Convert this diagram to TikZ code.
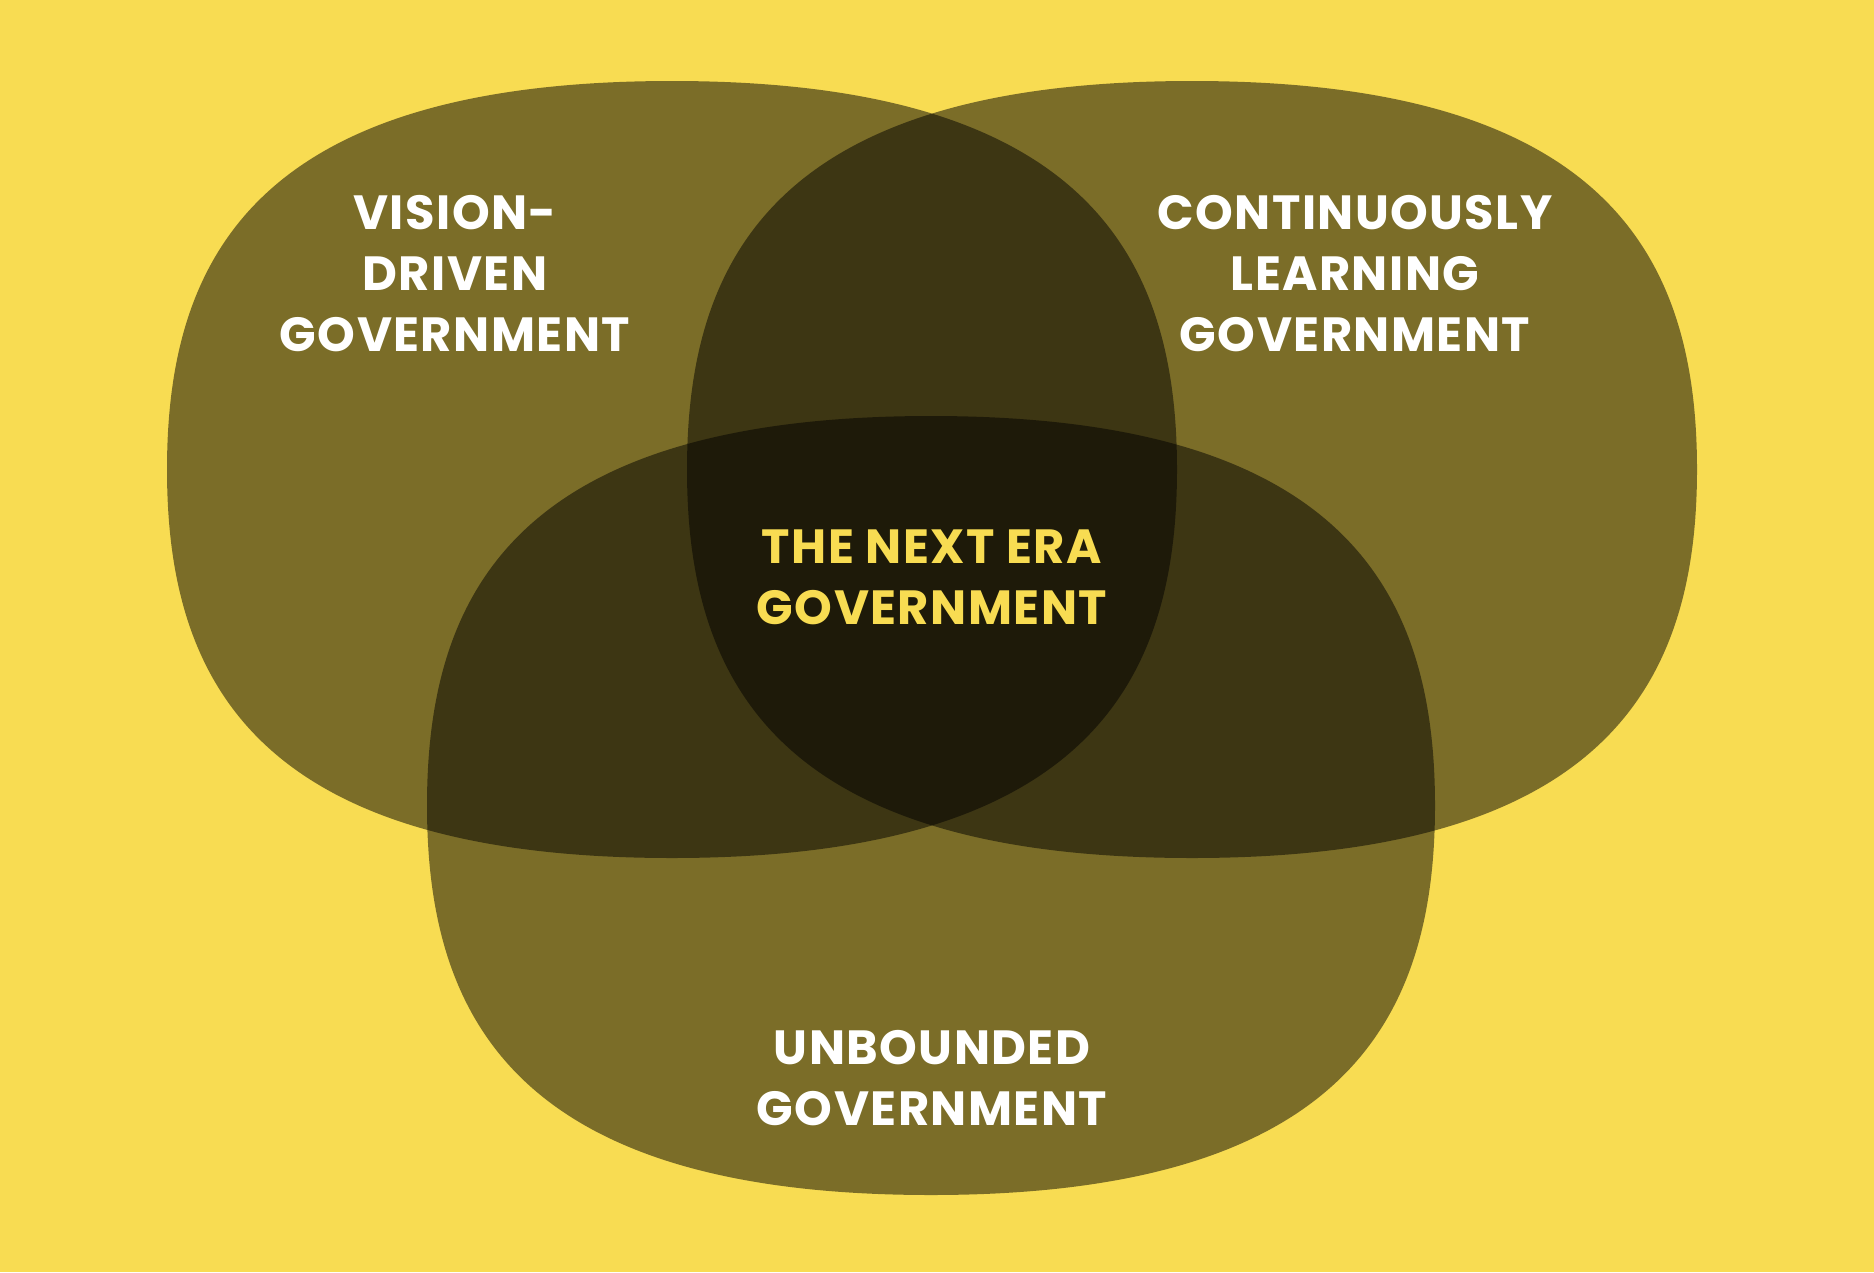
\documentclass[tikz,border=0pt]{standalone}
\usepackage{fontspec}
\setmainfont{Poppins}[LetterSpace=3]
\definecolor{bgyellow}{HTML}{F8DC52}
\newcommand\vennblobpath{(0,-1) .. controls (0.82,-1) and (1,-0.55) .. (1,0) .. controls (1,0.55) and (0.82,1) .. (0,1) .. controls (-0.82,1) and (-1,0.55) .. (-1,0) .. controls (-1,-0.55) and (-0.82,-1) .. (0,-1) -- cycle}
\tikzset{
  blobfill/.style={fill=black, fill opacity=0.5},
  vlabel/.style={inner sep=0pt, align=center, text=white, font=\fontsize{48}{61}\selectfont\bfseries},
  clabel/.style={vlabel, text=bgyellow},
}
\begin{document}
\begin{tikzpicture}[x=1pt,y=-1pt]
\fill[bgyellow] (0,0) rectangle (1874,1272);
\useasboundingbox (0,0) rectangle (1874,1272);
% left set
\begin{scope}[shift={(672pt,-469.5pt)}, x=505pt, y=-388.5pt]
\fill[blobfill] \vennblobpath;
\end{scope}
% right set
\begin{scope}[shift={(1192pt,-469.5pt)}, x=505pt, y=-388.5pt]
\fill[blobfill] \vennblobpath;
\end{scope}
% bottom set
\begin{scope}[shift={(931pt,-805.5pt)}, x=504pt, y=-389.5pt]
\fill[blobfill] \vennblobpath;
\end{scope}
\node[vlabel] (vision) at (455,274) {VISION-\\DRIVEN\\GOVERNMENT};
\node[vlabel] (learning) at (1355,274) {CONTINUOUSLY\\LEARNING\\GOVERNMENT};
\node[vlabel] (unbounded) at (932,1078) {UNBOUNDED\\GOVERNMENT};
\node[clabel] (nextera) at (932,577) {THE NEXT ERA\\GOVERNMENT};
\end{tikzpicture}
\end{document}
